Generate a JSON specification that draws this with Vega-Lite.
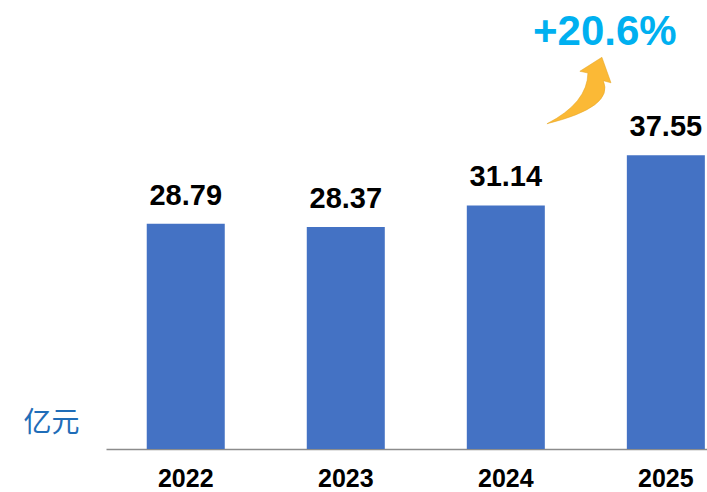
{
  "$schema": "https://vega.github.io/schema/vega-lite/v6.json",
  "autosize": {"type": "none"},
  "width": 601,
  "height": 449,
  "padding": {"left": 106, "top": 0, "right": 0, "bottom": 43},
  "background": "white",
  "config": {"view": {"stroke": null}, "font": "Liberation Sans"},
  "data": {
    "values": [
      {"year": "2022", "value": 28.79, "growth": null},
      {"year": "2023", "value": 28.37, "growth": null},
      {"year": "2024", "value": 31.14, "growth": null},
      {"year": "2025", "value": 37.55, "growth": "+20.6%"}
    ]
  },
  "encoding": {
    "x": {
      "field": "year",
      "type": "nominal",
      "sort": null,
      "scale": {"paddingInner": 0.5125, "paddingOuter": 0.134, "align": 0.95},
      "axis": {
        "title": null,
        "labelAngle": 0,
        "labelFont": "Liberation Sans",
        "labelFontSize": 25,
        "labelFontWeight": "bold",
        "labelColor": "#000000",
        "labelBaseline": "alphabetic",
        "labelPadding": 37,
        "ticks": false,
        "tickSize": 0,
        "domainColor": "#8C8C8C",
        "domainWidth": 1.5,
        "grid": false
      }
    },
    "y": {
      "field": "value",
      "type": "quantitative",
      "scale": {"domain": [0, 57.4], "nice": false, "zero": true},
      "axis": {
        "title": "亿元",
        "titleFont": "Noto Sans CJK SC",
        "titleFontSize": 28,
        "titleFontWeight": "normal",
        "titleColor": "#1F6DB8",
        "titleAngle": 0,
        "titleX": -55,
        "titleY": 423,
        "titleAlign": "center",
        "titleBaseline": "middle",
        "domain": false,
        "ticks": false,
        "labels": false,
        "grid": false
      }
    }
  },
  "layer": [
    {"mark": {"type": "bar", "color": "#4472C4"}},
    {
      "mark": {
        "type": "text",
        "font": "Liberation Sans",
        "fontSize": 29,
        "fontWeight": "bold",
        "color": "#000000",
        "baseline": "alphabetic",
        "dy": -19
      },
      "encoding": {"text": {"field": "value", "type": "quantitative", "format": ".2f"}}
    },
    {
      "transform": [{"filter": "datum.growth != null"}],
      "mark": {
        "type": "text",
        "font": "Liberation Sans",
        "fontSize": 42,
        "fontWeight": "bold",
        "color": "#00B0F0",
        "baseline": "alphabetic",
        "dx": -61,
        "dy": -110
      },
      "encoding": {"text": {"field": "growth"}}
    },
    {
      "transform": [{"filter": "datum.growth != null"}],
      "mark": {
        "type": "point",
        "filled": true,
        "fill": "#FBB936",
        "stroke": "#E3A21F",
        "strokeWidth": 0.5,
        "opacity": 1,
        "size": 4900,
        "shape": "M -0.94 0.9 Q 0.22 0.3 0.23 -0.55 L 0 -0.6 L 0.63 -1 L 0.89 -0.27 L 0.67 -0.33 Q 1.0 0.42 -0.94 0.9 Z",
        "xOffset": -86,
        "yOffset": -63
      }
    }
  ]
}
